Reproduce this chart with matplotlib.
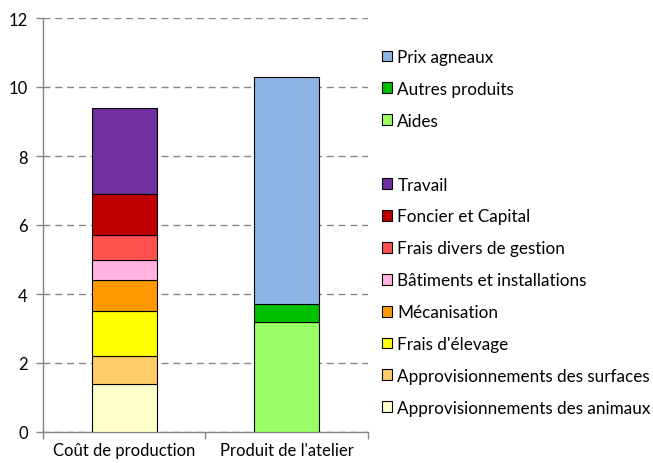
import matplotlib
matplotlib.use("Agg")
import matplotlib.pyplot as plt
from matplotlib.patches import Rectangle

# categories on the x axis
categories = ["Coût de production", "Produit de l'atelier"]

# cost components (bottom to top)
cost_labels = [
    "Approvisionnements des animaux",
    "Approvisionnements des surfaces",
    "Frais d'élevage",
    "Mécanisation",
    "Bâtiments et installations",
    "Frais divers de gestion",
    "Foncier et Capital",
    "Travail",
]
cost_values = [1.4, 0.8, 1.3, 0.9, 0.6, 0.7, 1.2, 2.5]
cost_colors = ["#FFFFCC", "#FFCC66", "#FFFF00", "#FF9900",
               "#FFB3DE", "#FF5050", "#C00000", "#7030A0"]

# product components (bottom to top)
prod_labels = ["Aides", "Autres produits", "Prix agneaux"]
prod_values = [3.2, 0.5, 6.6]
prod_colors = ["#99FF66", "#00C000", "#8EB4E3"]

y_ticks = [0, 2, 4, 6, 8, 10, 12]

plt.rcParams["font.family"] = ["Lato", "DejaVu Sans"]
fig = plt.figure(figsize=(6.53, 4.64), dpi=100)
ax = fig.add_axes([43 / 653, 31 / 464, 325 / 653, 414 / 464])

bar_w = 0.4
handles = {}
bottom = 0.0
for lab, val, col in zip(cost_labels, cost_values, cost_colors):
    b = ax.bar(0, val, bottom=bottom, width=bar_w, color=col,
               edgecolor="black", linewidth=0.8, zorder=3)
    handles[lab] = b
    bottom += val
bottom = 0.0
for lab, val, col in zip(prod_labels, prod_values, prod_colors):
    b = ax.bar(1, val, bottom=bottom, width=bar_w, color=col,
               edgecolor="black", linewidth=0.8, zorder=3)
    handles[lab] = b
    bottom += val

ax.set_xlim(-0.5, 1.5)
ax.set_ylim(0, 12)
ax.set_yticks(y_ticks)
ax.set_yticklabels([str(v) for v in y_ticks], fontsize=12)
ax.set_xticks([0, 1])
ax.set_xticklabels(categories, fontsize=12)
ax.set_xticks([-0.5, 0.5, 1.5], minor=True)
ax.tick_params(axis="x", which="major", length=0, pad=7)
ax.tick_params(axis="x", which="minor", length=5, color="#868686", width=1)
ax.tick_params(axis="y", length=5, color="#868686", width=1, pad=6)

for s in ["top", "right"]:
    ax.spines[s].set_visible(False)
for s in ["left", "bottom"]:
    ax.spines[s].set_color("#868686")
    ax.spines[s].set_linewidth(1)

ax.yaxis.grid(True, linestyle=(0, (5, 3.5)), color="#868686", linewidth=1, zorder=0)
ax.set_axisbelow(True)

blank = Rectangle((0, 0), 1, 1, fill=False, edgecolor="none", linewidth=0)
order = ["Prix agneaux", "Autres produits", "Aides", None, "Travail",
         "Foncier et Capital", "Frais divers de gestion",
         "Bâtiments et installations", "Mécanisation", "Frais d'élevage",
         "Approvisionnements des surfaces", "Approvisionnements des animaux"]
leg_h = [handles[k] if k else blank for k in order]
leg_l = [k if k else " " for k in order]
fig.legend(leg_h, leg_l, loc="upper left", bbox_to_anchor=(382 / 653, 1 - 50 / 464),
           frameon=False, fontsize=12.3, handlelength=0.6, handleheight=0.6,
           handletextpad=0.3, labelspacing=0.93, borderpad=0, borderaxespad=0)

fig.savefig("out.png", dpi=100)
